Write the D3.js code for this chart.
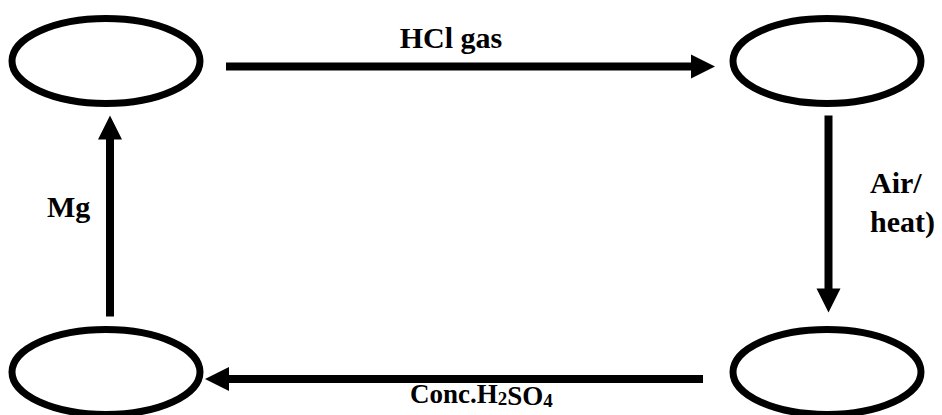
<!DOCTYPE html>
<html>
<head>
<meta charset="utf-8">
<script src="https://cdn.jsdelivr.net/npm/d3@7"></script>
<style>
  body { margin: 0; background: #fff; }
  text { font-family: "Liberation Serif", "Times New Roman", serif; font-weight: bold; fill: #000; }
</style>
</head>
<body>
<svg id="chart" width="942" height="415"></svg>
<script>
// boxes on a 2x2 grid (col, row)
const nodes = [
  {id: "tl", col: 0, row: 0},
  {id: "tr", col: 1, row: 0},
  {id: "br", col: 1, row: 1},
  {id: "bl", col: 0, row: 1}
];

// reaction steps going round the cycle
const steps = [
  {from: "tl", to: "tr", label: ["HCl gas"]},
  {from: "tr", to: "br", label: ["Air/", "heat)"]},
  {from: "br", to: "bl", label: ["Conc.H2SO4"]},
  {from: "bl", to: "tl", label: ["Mg"]}
];

const svg = d3.select("#chart");

const x = d3.scaleLinear().domain([0, 1]).range([106, 827]);
const y = d3.scaleLinear().domain([0, 1]).range([61, 372]);

const rx = 94, ry = 42.5, stroke = 7;
const head = 24, lineW = 8;

// ellipses
svg.append("g")
  .selectAll("ellipse")
  .data(nodes)
  .enter().append("ellipse")
  .attr("cx", d => x(d.col))
  .attr("cy", d => y(d.row))
  .attr("rx", rx)
  .attr("ry", ry)
  .attr("fill", "none")
  .attr("stroke", "#000")
  .attr("stroke-width", stroke);

const byId = {};
nodes.forEach(n => byId[n.id] = n);

// arrow endpoints, worked out from the node positions
function ends(s) {
  const a = byId[s.from], b = byId[s.to];
  if (a.row === b.row) {
    const yy = y(a.row) + (a.row === 0 ? 5.5 : 7);
    const dir = Math.sign(b.col - a.col);
    return {
      x1: x(a.col) + dir * (rx + 26 + (dir < 0 ? 4 : 0)), y1: yy,
      x2: x(b.col) - dir * (rx + 18 - (dir < 0 ? 13 : 0)), y2: yy
    };
  } else {
    const xx = x(a.col) + (a.col === 0 ? 4 : 1.5);
    const dir = Math.sign(b.row - a.row);
    return {
      x1: xx, y1: y(a.row) + dir * (ry + 12 + (dir < 0 ? 1 : 0)),
      x2: xx, y2: y(b.row) - dir * (ry + 12 + (dir < 0 ? 0 : 5))
    };
  }
}

const arrows = svg.append("g");
steps.forEach(s => {
  const e = ends(s);
  const len = Math.hypot(e.x2 - e.x1, e.y2 - e.y1);
  const ux = (e.x2 - e.x1) / len, uy = (e.y2 - e.y1) / len;
  const bx = e.x2 - ux * head, by = e.y2 - uy * head;
  arrows.append("line")
    .attr("x1", e.x1).attr("y1", e.y1)
    .attr("x2", bx + ux).attr("y2", by + uy)
    .attr("stroke", "#000")
    .attr("stroke-width", lineW);
  const hw = head / 2;
  arrows.append("path")
    .attr("d", d3.line()([
      [e.x2, e.y2],
      [bx - uy * hw, by + ux * hw],
      [bx + uy * hw, by - ux * hw]
    ]) + "Z")
    .attr("fill", "#000");
});

// labels
const lab = svg.append("g");

lab.append("text")
  .attr("x", 451).attr("y", 48)
  .attr("text-anchor", "middle")
  .style("font-size", "30px")
  .text(steps[0].label[0]);

lab.selectAll(".air")
  .data(steps[1].label)
  .enter().append("text")
  .attr("class", "air")
  .attr("x", 870)
  .attr("y", (d, i) => 193 + i * 39)
  .style("font-size", "30px")
  .text(d => d);

lab.append("text")
  .attr("x", 47).attr("y", 217)
  .style("font-size", "30px")
  .text(steps[3].label[0]);

// Conc.H2SO4 with subscripts
const conc = lab.append("text")
  .attr("x", 410).attr("y", 403)
  .style("font-size", "27px");
const parts = steps[2].label[0].match(/[A-Za-z.]+|\d+/g);
parts.forEach(p => {
  if (/^\d+$/.test(p)) {
    conc.append("tspan").attr("dy", 2).style("font-size", "19px").text(p);
    conc.append("tspan").attr("dy", -2).text("");
  } else {
    conc.append("tspan").text(p);
  }
});
</script>
</body>
</html>
